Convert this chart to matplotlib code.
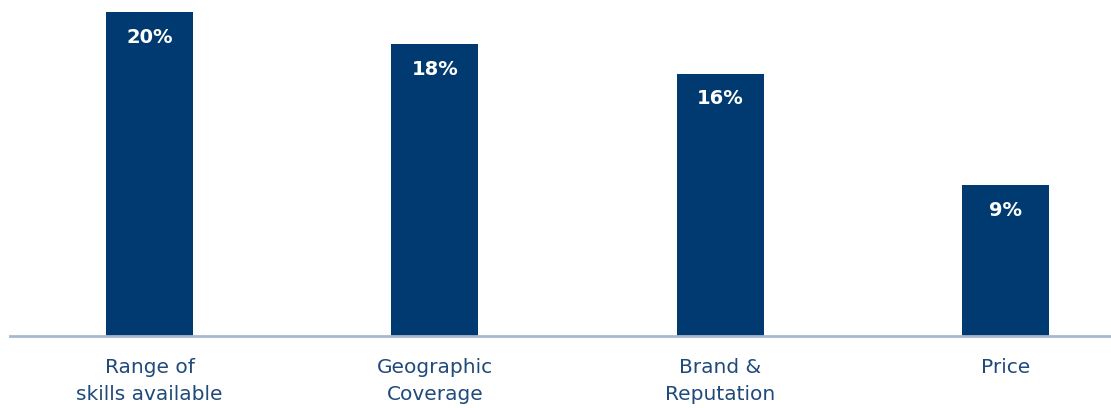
import matplotlib
matplotlib.use("Agg")
import matplotlib.pyplot as plt

# Values (labels are rounded)
categories = ["Range of\nskills available", "Geographic\nCoverage", "Brand &\nReputation", "Price"]
values = [20.0, 18.0, 16.2, 9.3]

navy = "#003a70"
label_col = "#1f4a7a"

fig = plt.figure(figsize=(11.11, 4.08), dpi=100)
ax = fig.add_axes([10 / 1111, 72 / 408, 1101 / 1111, 336 / 408])

x = range(len(categories))
ax.bar(x, values, width=0.305, color=navy, zorder=2)

for xi, v in zip(x, values):
    ax.text(xi, v - 1.55, f"{v:.0f}%", ha="center", va="center",
            color="white", fontsize=14, fontweight="bold", family="DejaVu Sans")

ax.set_xlim(-0.489, 3.37)
ax.set_ylim(0, 336 / 16.2)
ax.set_yticks([])
ax.set_xticks(list(x))
ax.set_xticklabels(categories, fontsize=14.5, color=label_col, linespacing=1.55)
ax.tick_params(axis="x", length=0, pad=16)

for s in ["top", "left", "right"]:
    ax.spines[s].set_visible(False)
ax.spines["bottom"].set_color("#a9b9cc")
ax.spines["bottom"].set_linewidth(2)

fig.savefig("out.png", dpi=100)
